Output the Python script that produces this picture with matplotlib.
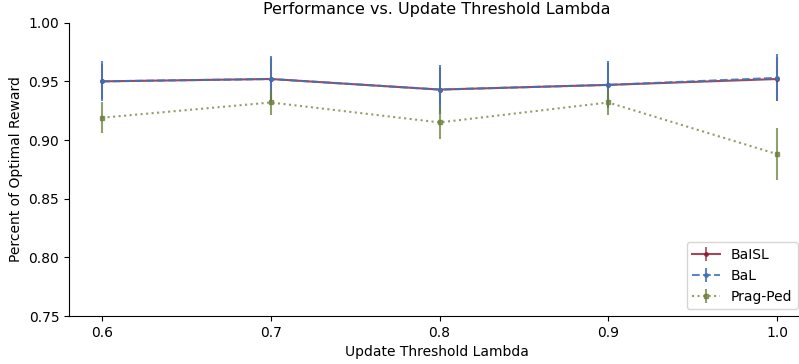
import matplotlib
matplotlib.use("Agg")
from matplotlib import pyplot as plt

# update threshold values
lambdas = [0.6, 0.7, 0.8, 0.9, 1.0]

baisl_mean = [0.950, 0.952, 0.943, 0.947, 0.952]
baisl_err = [0.015, 0.018, 0.019, 0.019, 0.019]

bal_mean = [0.950, 0.952, 0.943, 0.947, 0.953]
bal_err = [0.017, 0.020, 0.021, 0.020, 0.020]

prag_mean = [0.919, 0.932, 0.915, 0.932, 0.888]
prag_err = [0.013, 0.011, 0.014, 0.011, 0.022]

fig = plt.figure(figsize=(7.99, 3.64), dpi=100)
ax = fig.add_axes([69 / 799, 48 / 364, 736 / 799, 293.3 / 364])

ax.errorbar(lambdas, baisl_mean, yerr=baisl_err, color="#8b1a2e", linestyle="-",
            marker="o", markersize=2.5, linewidth=1.5, elinewidth=1.2, alpha=0.8,
            label="BaISL")
ax.errorbar(lambdas, bal_mean, yerr=bal_err, color="#3f72b8", linestyle="--",
            marker="o", markersize=2.5, linewidth=1.5, elinewidth=1.5, alpha=0.85,
            label="BaL")
ax.errorbar(lambdas, prag_mean, yerr=prag_err, color="#6b7f3a", linestyle=":",
            marker="s", markersize=3.5, linewidth=1.5, elinewidth=1.5, alpha=0.75,
            label="Prag-Ped")

ax.set_ylim(0.75, 1.00)
ax.set_xlim(0.5804, 1.0166)
ax.set_xticks(lambdas)
ax.set_yticks([0.75, 0.80, 0.85, 0.90, 0.95, 1.00])
ax.spines["top"].set_visible(False)
ax.spines["right"].set_visible(False)

ax.set_title("Performance vs. Update Threshold Lambda", fontsize=11.5)
ax.set_xlabel("Update Threshold Lambda")
ax.set_ylabel("Percent of Optimal Reward")
ax.legend(loc="lower right")

fig.savefig("out.png", dpi=100)
